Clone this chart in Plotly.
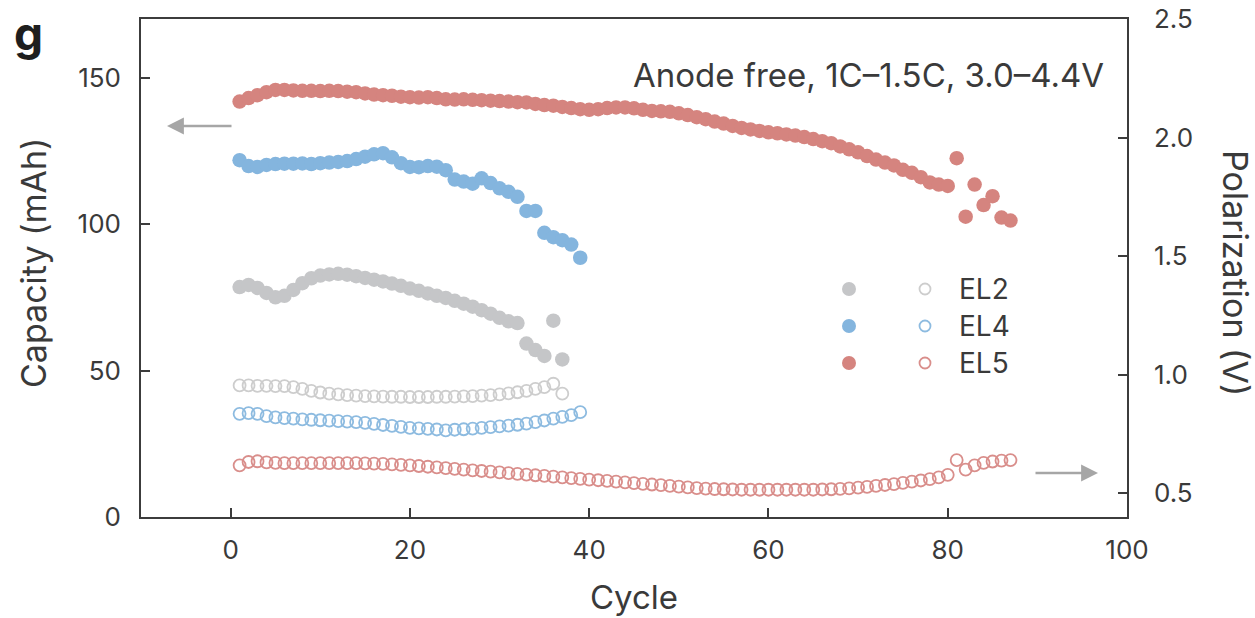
import plotly.graph_objects as go

# ---------------- data ----------------
cycles_el2 = list(range(1, 38))
cycles_el4 = list(range(1, 40))
cycles_el5 = list(range(1, 88))

cap_el2 = [78.5, 79.2, 78.2, 76.5, 75.0, 75.5, 77.5, 79.8, 81.5, 82.4,
           82.8, 83.0, 82.7, 82.2, 81.6, 81.0, 80.4, 79.7, 78.9, 78.0,
           77.2, 76.3, 75.5, 74.8, 73.8, 72.8, 71.8, 70.6, 69.4, 68.0,
           66.8, 66.2, 59.2, 57.0, 55.0, 67.0, 53.8]

cap_el4 = [121.8, 119.8, 119.5, 120.2, 120.5, 120.6, 120.6, 120.7, 120.5, 120.8,
           121.0, 121.2, 121.5, 122.2, 123.0, 123.8, 124.2, 122.8, 120.8, 119.5,
           119.4, 119.8, 119.6, 118.4, 115.2, 114.5, 113.8, 115.6, 114.0, 112.2,
           111.0, 109.3, 104.5, 104.5, 97.0, 95.5, 94.5, 93.0, 88.5]

cap_el5 = [141.8, 143.0, 144.0, 145.0, 145.8, 145.8, 145.6, 145.5, 145.5, 145.4,
           145.5, 145.4, 145.2, 145.0, 144.6, 144.2, 144.0, 143.8, 143.5, 143.3,
           143.2, 143.3, 143.0, 142.6, 142.5, 142.6, 142.4, 142.3, 142.1, 142.0,
           141.8, 141.6, 141.5, 141.0, 140.6, 140.4, 140.0, 139.6, 139.2, 139.0,
           139.2, 139.6, 139.8, 139.8, 139.5, 139.0, 138.6, 138.5, 138.3, 137.8,
           137.2, 136.5, 135.8, 135.0, 134.3, 133.5, 132.8, 132.3, 131.8, 131.3,
           131.0, 130.6, 130.2, 129.7, 129.0, 128.3, 127.6, 126.5, 125.5, 124.5,
           123.2, 122.0, 121.0, 120.0, 118.5, 117.5, 116.0, 114.2, 113.5, 113.0,
           122.5, 102.5, 113.5, 106.5, 109.5, 102.2, 101.2]

pol_el2 = [0.955, 0.955, 0.953, 0.953, 0.952, 0.952, 0.948, 0.940, 0.932, 0.925,
           0.920, 0.917, 0.914, 0.912, 0.910, 0.909, 0.908, 0.907, 0.907, 0.906,
           0.906, 0.906, 0.907, 0.907, 0.908, 0.909, 0.910, 0.912, 0.914, 0.917,
           0.921, 0.926, 0.932, 0.940, 0.948, 0.962, 0.920]

pol_el4 = [0.835, 0.838, 0.835, 0.825, 0.820, 0.817, 0.815, 0.812, 0.810, 0.808,
           0.806, 0.804, 0.802, 0.800, 0.797, 0.793, 0.788, 0.784, 0.780, 0.776,
           0.774, 0.772, 0.769, 0.765, 0.768, 0.770, 0.773, 0.776, 0.779, 0.782,
           0.785, 0.789, 0.794, 0.800, 0.807, 0.815, 0.822, 0.830, 0.842]

pol_el5 = [0.618, 0.632, 0.635, 0.630, 0.628, 0.627, 0.627, 0.627, 0.627, 0.627,
           0.627, 0.627, 0.627, 0.627, 0.626, 0.625, 0.624, 0.622, 0.620, 0.618,
           0.615, 0.612, 0.609, 0.606, 0.603, 0.600, 0.597, 0.594, 0.591, 0.588,
           0.585, 0.582, 0.579, 0.576, 0.573, 0.570, 0.567, 0.564, 0.561, 0.558,
           0.555, 0.552, 0.549, 0.546, 0.543, 0.540, 0.537, 0.534, 0.531, 0.528,
           0.525, 0.522, 0.520, 0.518, 0.517, 0.516, 0.515, 0.515, 0.515, 0.515,
           0.515, 0.515, 0.515, 0.515, 0.515, 0.516, 0.517, 0.519, 0.521, 0.524,
           0.527, 0.531, 0.535, 0.539, 0.544, 0.549, 0.554, 0.560, 0.567, 0.578,
           0.640, 0.600, 0.618, 0.628, 0.634, 0.638, 0.640]

x_ticks = [0, 20, 40, 60, 80, 100]
y_ticks = [0, 50, 100, 150]
y2_ticks = [0.5, 1.0, 1.5, 2.0, 2.5]
names = ["EL2", "EL4", "EL5"]

# ---------------- style ----------------
FONT = "Inter, Liberation Sans, Arial, sans-serif"
TXT = "#3a3a3a"
AX = "#3c3c3c"
col_fill = {"EL2": "#c5c6c8", "EL4": "#84b5de", "EL5": "#d5847f"}
col_open = {"EL2": "#cdcdcd", "EL4": "#8dbbe0", "EL5": "#d98e8b"}

fig = go.Figure()

series = {
    "EL2": (cycles_el2, cap_el2, pol_el2),
    "EL4": (cycles_el4, cap_el4, pol_el4),
    "EL5": (cycles_el5, cap_el5, pol_el5),
}

for n in names:
    cx, cap, pol = series[n]
    fig.add_trace(go.Scatter(
        x=cx, y=pol, mode="markers", yaxis="y2", showlegend=False,
        marker=dict(symbol="circle-open", size=12, color=col_open[n],
                    line=dict(width=1.8, color=col_open[n])),
        name=n + " polarization"))

for n in names:
    cx, cap, pol = series[n]
    fig.add_trace(go.Scatter(
        x=cx, y=cap, mode="markers", showlegend=False,
        marker=dict(symbol="circle", size=14.5, color=col_fill[n], line=dict(width=0)),
        name=n + " capacity"))

# ---------------- layout ----------------
L, R, T, B = 141, 128, 19, 101
W, H = 1255, 618
pw, ph = W - L - R, H - T - B


def px_x(px):
    return (px - L) / pw


def px_y(py):
    return (H - B - py) / ph


axis_common = dict(showline=True, linecolor=AX, linewidth=1.6, ticks="inside",
                   ticklen=9, tickwidth=1.6, tickcolor=AX, showgrid=False,
                   zeroline=False, tickfont=dict(family=FONT, size=26, color=TXT))

fig.update_layout(
    width=W, height=H,
    margin=dict(l=L, r=R, t=T, b=B, autoexpand=False),
    paper_bgcolor="white", plot_bgcolor="white",
    showlegend=False,
    xaxis=dict(range=[-10, 100], tickvals=x_ticks, mirror=True,
               ticklabelstandoff=9, **axis_common),
    yaxis=dict(range=[0, 170], tickvals=y_ticks, ticklabelstandoff=13,
               **axis_common),
    yaxis2=dict(range=[0.4, 2.5], tickvals=y2_ticks, tickformat=".1f",
                overlaying="y", side="right", ticklabelstandoff=20,
                **axis_common),
)

annotations = [
    dict(text="<b>g</b>", x=px_x(12), y=px_y(33), xanchor="left", yanchor="middle",
         font=dict(family=FONT, size=46, color="#1e1e1e")),
    dict(text="Capacity (mAh)", x=px_x(33), y=px_y(263), textangle=-90,
         xanchor="center", yanchor="middle", font=dict(family=FONT, size=34, color=TXT)),
    dict(text="Polarization (V)", x=px_x(1236), y=px_y(273), textangle=90,
         xanchor="center", yanchor="middle", font=dict(family=FONT, size=34, color=TXT)),
    dict(text="Cycle", x=px_x(634), y=px_y(597), xanchor="center", yanchor="middle",
         font=dict(family=FONT, size=33, color=TXT)),
    dict(text="Anode free, 1C\u20131.5C, 3.0\u20134.4V", x=px_x(1106), y=px_y(75),
         xanchor="right", yanchor="middle", font=dict(family=FONT, size=33, color=TXT)),
    # arrows
    dict(text="", x=px_x(167), y=px_y(126), ax=66, ay=0, showarrow=True,
         arrowhead=2, arrowsize=1.3, arrowwidth=2.6, arrowcolor="#a6a6a6"),
    dict(text="", x=px_x(1098), y=px_y(473), ax=-64, ay=0, showarrow=True,
         arrowhead=2, arrowsize=1.3, arrowwidth=2.6, arrowcolor="#a6a6a6"),
]

# legend (drawn manually: filled + open marker per row)
legend_rows = [289, 326, 363]
shapes = []
for n, ry in zip(names, legend_rows):
    shapes.append(dict(type="circle", xref="paper", yref="paper",
                       xsizemode="pixel", ysizemode="pixel",
                       xanchor=px_x(849), yanchor=px_y(ry),
                       x0=-7, x1=7, y0=-7, y1=7,
                       fillcolor=col_fill[n], line=dict(width=0)))
    shapes.append(dict(type="circle", xref="paper", yref="paper",
                       xsizemode="pixel", ysizemode="pixel",
                       xanchor=px_x(925), yanchor=px_y(ry),
                       x0=-5.5, x1=5.5, y0=-5.5, y1=5.5,
                       fillcolor="white", line=dict(width=1.8, color=col_open[n])))
    annotations.append(dict(text=n, x=px_x(957), y=px_y(ry), xanchor="left",
                            yanchor="middle",
                            font=dict(family=FONT, size=28, color=TXT)))

for a in annotations:
    a.setdefault("xref", "paper")
    a.setdefault("yref", "paper")
    a.setdefault("showarrow", False)

fig.update_layout(annotations=annotations, shapes=shapes)

fig.write_html("out.html")
